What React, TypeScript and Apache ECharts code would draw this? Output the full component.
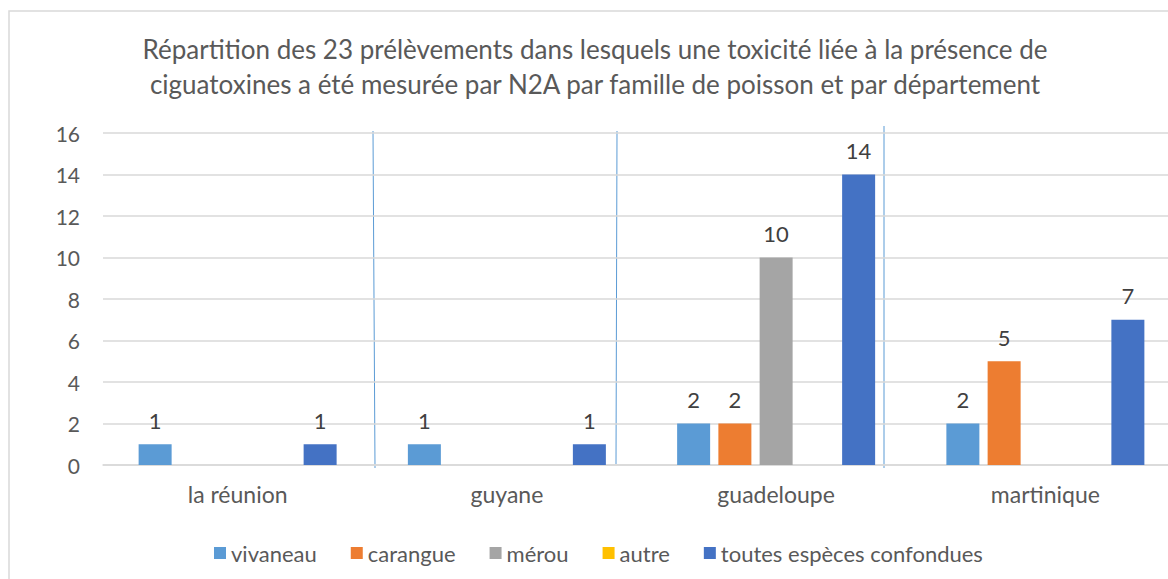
import React, { useEffect, useRef } from "react";
import * as echarts from "echarts";

const categories = ["la réunion", "guyane", "guadeloupe", "martinique"];
const seriesNames = ["vivaneau", "carangue", "mérou", "autre", "toutes espèces confondues"];
const vivaneau = [1, 1, 2, 2];
const carangue = [null, null, 2, 5];
const merou = [null, null, 10, null];
const autre = [null, null, null, null];
const toutes = [1, 1, 14, 7];
const colors = ["#5B9BD5", "#ED7D31", "#A5A5A5", "#FFC000", "#4472C4"];
const yTicks = { min: 0, max: 16, interval: 2 };
const titleText =
  "Répartition des 23 prélèvements dans lesquels une toxicité liée à la présence de\nciguatoxines a été mesurée par N2A par famille de poisson et par département";

const FONT = "Lato";

export default function App() {
  const ref = useRef<HTMLDivElement>(null);
  useEffect(() => {
    document.body.style.margin = "0";
    const chart = echarts.init(ref.current!, null, { renderer: "svg" });
    const values = [vivaneau, carangue, merou, autre, toutes];
    chart.setOption({
      animation: false,
      textStyle: { fontFamily: FONT },
      grid: { left: 103, top: 133, width: 1077, height: 332 },
      legend: {
        left: 209,
        top: 537,
        itemWidth: 12,
        itemHeight: 12,
        itemGap: 34,
        icon: "rect",
        textStyle: { fontFamily: FONT, fontSize: 22, color: "#595959" },
        data: seriesNames,
      },
      xAxis: {
        type: "category",
        data: categories,
        axisTick: { show: false },
        axisLine: { lineStyle: { color: "#D9D9D9", width: 1.5 } },
        axisLabel: { fontFamily: FONT, fontSize: 23, color: "#595959", margin: 17 },
      },
      yAxis: {
        type: "value",
        min: yTicks.min,
        max: yTicks.max,
        interval: yTicks.interval,
        axisLine: { show: false },
        axisTick: { show: false },
        splitLine: { lineStyle: { color: "#D9D9D9", width: 1.5 } },
        axisLabel: { fontFamily: FONT, fontSize: 21, color: "#595959", margin: 23 },
      },
      series: seriesNames.map((name, i) => ({
        name,
        type: "bar",
        data: values[i],
        barWidth: 33,
        barGap: "25%",
        itemStyle: { color: colors[i] },
        label: {
          show: true,
          position: "top",
          distance: 13,
          fontFamily: FONT,
          fontSize: 22,
          color: "#404040",
        },
      })),
      graphic: [
        {
          type: "rect",
          z: -10,
          shape: { x: 9, y: 11, width: 1240, height: 620 },
          style: { fill: "none", stroke: "#D9D9D9", lineWidth: 1.5 },
        },
        {
          type: "text",
          x: 595,
          y: 66,
          style: {
            text: titleText,
            align: "center",
            verticalAlign: "middle",
            fontFamily: FONT,
            fontSize: 26,
            lineHeight: 35,
            fill: "#595959",
          },
        },
        { type: "line", shape: { x1: 373, y1: 131, x2: 375, y2: 468 }, style: { stroke: "#5B9BD5", lineWidth: 1 } },
        { type: "line", shape: { x1: 617, y1: 131, x2: 616, y2: 464 }, style: { stroke: "#5B9BD5", lineWidth: 1 } },
        { type: "line", shape: { x1: 884, y1: 126, x2: 884, y2: 468 }, style: { stroke: "#5B9BD5", lineWidth: 1 } },
      ],
    });
    return () => chart.dispose();
  }, []);
  return (
    <div style={{ width: 1168, height: 579, overflow: "hidden" }}>
      <div ref={ref} style={{ width: 1200, height: 579 }} />
    </div>
  );
}
